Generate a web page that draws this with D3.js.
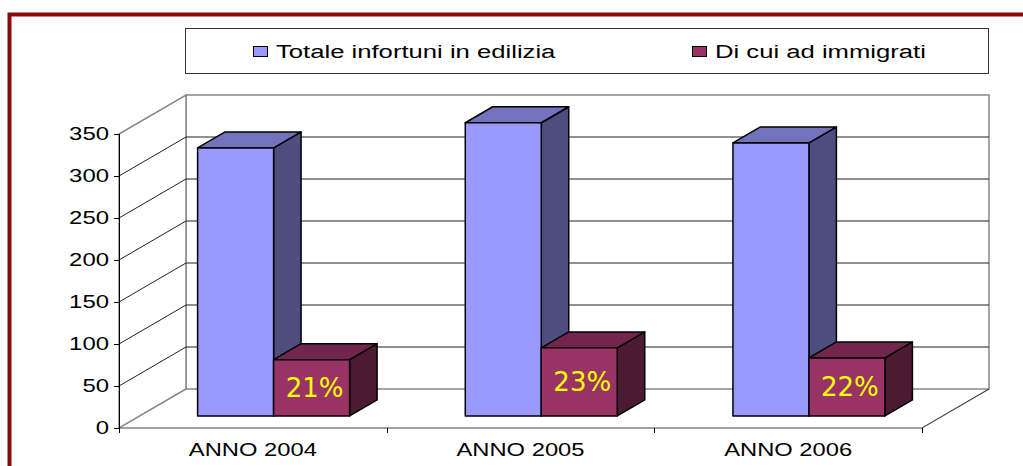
<!DOCTYPE html>
<html>
<head>
<meta charset="utf-8">
<script src="https://cdn.jsdelivr.net/npm/d3@7"></script>
<style>
  body { margin: 0; background: #fff; }
  svg { display: block; }
</style>
</head>
<body>
<script>
// data
const categories = ["ANNO 2004", "ANNO 2005", "ANNO 2006"];
const totale = [319, 349, 325];
const immigrati = [67, 81, 69];
const percentuali = ["21%", "23%", "22%"];
const seriesNames = ["Totale infortuni in edilizia", "Di cui ad immigrati"];
const yTicks = [0, 50, 100, 150, 200, 250, 300, 350];

const width = 1023, height = 466;

// 3d depth of the box, and of the bars inside it
const DX = 67, DY = -39;
const zFront = 0.31, zBack = 0.72;
const barW = 76;

const colors = [
  {front: "#9999ff", top: "#7373bd", side: "#4d4d80"},
  {front: "#993366", top: "#73264d", side: "#4d1a33"}
];

const svg = d3.select("body").append("svg")
  .attr("width", width)
  .attr("height", height);

const x = d3.scaleBand().domain(categories).range([119, 922]);
const y = d3.scaleLinear().domain([0, 350]).range([428, 134]);

function p(px, v, z) { return [px + z * DX, y(v) + z * DY]; }
function poly(pts) { return "M" + pts.map(d => d.join(",")).join("L") + "Z"; }

// outer frame
svg.append("rect")
  .attr("x", 9.5).attr("y", 14.5)
  .attr("width", 1100).attr("height", 600)
  .attr("fill", "none")
  .attr("stroke", "#8c0a0a")
  .attr("stroke-width", 4);

function stretchedText(g, tx, ty, str, size, sx, anchor) {
  return g.append("text")
    .attr("transform", "translate(" + tx + "," + ty + ") scale(" + sx + ",1)")
    .attr("text-anchor", anchor || "start")
    .attr("font-family", "Liberation Sans, Arial, sans-serif")
    .attr("font-size", size)
    .attr("fill", "#000")
    .text(str);
}

// legend
const legend = svg.append("g");
legend.append("rect")
  .attr("x", 185.5).attr("y", 28.5)
  .attr("width", 803).attr("height", 45)
  .attr("fill", "#fff")
  .attr("stroke", "#333")
  .attr("stroke-width", 1);
const legendX = [253, 692];
seriesNames.forEach((name, i) => {
  legend.append("rect")
    .attr("x", legendX[i] + 0.5).attr("y", 46.5)
    .attr("width", 14).attr("height", 10)
    .attr("fill", colors[i].front)
    .attr("stroke", "#000").attr("stroke-width", 1);
  stretchedText(legend, legendX[i] + 23, 58, name, 19, 1.35);
});

// walls
const x0 = x.range()[0], x1 = x.range()[1];
const walls = svg.append("g");
walls.append("path")
  .attr("d", poly([p(x0, 0, 1), p(x0, 350, 1), p(x1, 350, 1), p(x1, 0, 1)]))
  .attr("fill", "#fff").attr("stroke", "#888").attr("stroke-width", 1.5);
walls.append("path")
  .attr("d", poly([p(x0, 0, 0), p(x0, 350, 0), p(x0, 350, 1), p(x0, 0, 1)]))
  .attr("fill", "#fff").attr("stroke", "#888").attr("stroke-width", 1.5);

// gridlines on side and back wall
yTicks.slice(1, -1).forEach(t => {
  walls.append("path")
    .attr("d", "M" + p(x0, t, 0) + "L" + p(x0, t, 1) + "L" + p(x1, t, 1))
    .attr("fill", "none").attr("stroke", "#222").attr("stroke-width", 1);
});

// floor
walls.append("path")
  .attr("d", "M" + p(x0, 0, 0) + "L" + p(x1, 0, 0) + "L" + p(x1, 0, 1))
  .attr("fill", "none").attr("stroke", "#444").attr("stroke-width", 1.2);

// y axis
const yAxis = svg.append("g");
yAxis.append("line")
  .attr("x1", x0 + 0.5).attr("x2", x0 + 0.5)
  .attr("y1", y(350)).attr("y2", y(0) + 5)
  .attr("stroke", "#000");
yTicks.forEach(t => {
  yAxis.append("line")
    .attr("x1", x0 - 5).attr("x2", x0)
    .attr("y1", Math.round(y(t)) + 0.5).attr("y2", Math.round(y(t)) + 0.5)
    .attr("stroke", "#000");
  stretchedText(yAxis, 109, y(t) + 6, t, 18, 1.33, "end");
});

// x axis ticks and labels
const xAxis = svg.append("g");
[x0].concat(categories.map(c => x(c) + x.bandwidth())).forEach(v => {
  xAxis.append("line")
    .attr("x1", Math.round(v) + 0.5).attr("x2", Math.round(v) + 0.5)
    .attr("y1", y(0)).attr("y2", y(0) + 5)
    .attr("stroke", "#000");
});
categories.forEach(c => {
  stretchedText(xAxis, x(c) + x.bandwidth() / 2, 456, c, 18, 1.32, "middle");
});

// bars
const bars = svg.append("g");
function drawBar(left, v, col) {
  const right = left + barW;
  const g = bars.append("g")
    .attr("stroke", "#000").attr("stroke-width", 1.5).attr("stroke-linejoin", "round");
  g.append("path")
    .attr("d", poly([p(right, 0, zFront), p(right, v, zFront), p(right, v, zBack), p(right, 0, zBack)]))
    .attr("fill", col.side);
  g.append("path")
    .attr("d", poly([p(left, v, zFront), p(left, v, zBack), p(right, v, zBack), p(right, v, zFront)]))
    .attr("fill", col.top);
  g.append("path")
    .attr("d", poly([p(left, 0, zFront), p(left, v, zFront), p(right, v, zFront), p(right, 0, zFront)]))
    .attr("fill", col.front);
}

categories.forEach((c, i) => {
  const start = x(c) + (x.bandwidth() - 2 * barW) / 2;
  drawBar(start, totale[i], colors[0]);
  drawBar(start + barW, immigrati[i], colors[1]);

  const cx = start + barW * 1.5 + zFront * DX + 3;
  const cy = (y(0) + y(immigrati[i])) / 2 + zFront * DY + 9;
  bars.append("text")
    .attr("x", cx).attr("y", cy)
    .attr("text-anchor", "middle")
    .attr("font-family", "DejaVu Sans, Verdana, sans-serif")
    .attr("font-size", 26)
    .attr("fill", "#ffff00")
    .text(percentuali[i]);
});
</script>
</body>
</html>
